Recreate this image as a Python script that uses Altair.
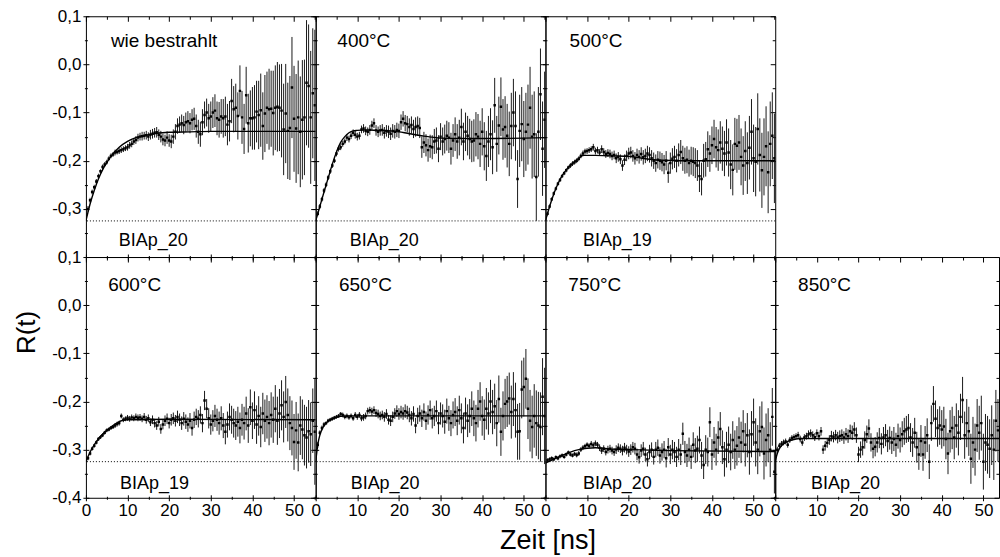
import altair as alt
import pandas as pd

# ---------------- data ----------------
# time channels [ns]
T = [0.5, 1.0, 1.5, 2.0, 2.5, 3.0, 3.5, 4.0, 4.5, 5.0,
     5.5, 6.0, 6.5, 7.0, 7.5, 8.0, 8.5, 9.0, 9.5, 10.0,
     10.5, 11.0, 11.5, 12.0, 12.5, 13.0, 13.5, 14.0, 14.5, 15.0,
     15.5, 16.0, 16.5, 17.0, 17.5, 18.0, 18.5, 19.0, 19.5, 20.0,
     20.5, 21.0, 21.5, 22.0, 22.5, 23.0, 23.5, 24.0, 24.5, 25.0,
     25.5, 26.0, 26.5, 27.0, 27.5, 28.0, 28.5, 29.0, 29.5, 30.0,
     30.5, 31.0, 31.5, 32.0, 32.5, 33.0, 33.5, 34.0, 34.5, 35.0,
     35.5, 36.0, 36.5, 37.0, 37.5, 38.0, 38.5, 39.0, 39.5, 40.0,
     40.5, 41.0, 41.5, 42.0, 42.5, 43.0, 43.5, 44.0, 44.5, 45.0,
     45.5, 46.0, 46.5, 47.0, 47.5, 48.0, 48.5, 49.0, 49.5, 50.0,
     50.5, 51.0, 51.5, 52.0, 52.5, 53.0, 53.5, 54.0, 54.5, 55.0]

PANEL_NAMES = ["wie bestrahlt", "400°C", "500°C", "600°C", "650°C", "750°C", "850°C"]
SAMPLE_NAMES = ["BIAp_20", "BIAp_20", "BIAp_19", "BIAp_19", "BIAp_20", "BIAp_20", "BIAp_20"]

# R(t) values in units of 1/1000
R_WB = [-300, -282, -265, -255, -243, -232, -222, -213, -208, -203,
        -196, -190, -187, -183, -182, -180, -178, -176, -174, -172,
        -168, -165, -160, -157, -152, -150, -149, -148, -147, -150,
        -146, -144, -142, -141, -146, -150, -156, -158, -152, -158,
        -160, -150, -140, -128, -125, -122, -126, -120, -118, -122,
        -115, -113, -128, -140, -145, -120, -105, -100, -112, -108,
        -100, -96, -112, -115, -108, -112, -108, -125, -118, -76,
        -93, -90, -107, -55, -110, -134, -64, -122, -112, -112,
        -110, -98, -105, -95, -128, -102, -90, -93, -92, -101,
        -90, -88, -90, -96, -135, -102, -138, -132, -48, -113,
        -133, -110, -140, -115, -110, -38, -45, -110, -60, -85]
E_WB = [6, 5, 5, 5, 5, 5, 4, 5, 5, 5,
        5, 5, 5, 6, 5, 6, 6, 6, 6, 7,
        7, 7, 7, 8, 8, 8, 9, 8, 9, 9,
        10, 10, 10, 11, 11, 12, 12, 12, 13, 13,
        14, 15, 16, 16, 17, 18, 19, 20, 21, 21,
        22, 23, 24, 25, 26, 27, 28, 29, 30, 31,
        32, 34, 35, 37, 36, 40, 41, 43, 42, 46,
        48, 50, 49, 53, 55, 52, 59, 61, 58, 65,
        67, 64, 71, 76, 70, 80, 75, 84, 79, 88,
        88, 93, 90, 97, 95, 103, 100, 108, 105, 110,
        113, 118, 115, 124, 120, 130, 128, 138, 135, 157]

R_400 = [-310, -295, -280, -262, -250, -235, -222, -210, -200, -185,
         -175, -172, -165, -160, -152, -155, -148, -142, -146, -150,
         -148, -135, -133, -138, -140, -136, -127, -122, -137, -140,
         -137, -136, -142, -138, -140, -144, -138, -140, -136, -138,
         -120, -113, -122, -124, -130, -126, -134, -130, -128, -132,
         -172, -162, -168, -178, -170, -172, -160, -158, -175, -150,
         -160, -155, -148, -152, -175, -158, -145, -160, -152, -130,
         -160, -140, -148, -155, -160, -158, -145, -150, -165, -140,
         -170, -190, -160, -145, -172, -85, -165, -127, -88, -135,
         -130, -148, -165, -128, -100, -128, -238, -138, -124, -155,
         -140, -125, -90, -150, -145, -234, -140, -62, -175, -115]
E_400 = [5, 5, 5, 5, 5, 5, 5, 5, 5, 6,
         6, 6, 6, 6, 7, 7, 7, 7, 8, 8,
         8, 8, 9, 9, 9, 10, 10, 10, 11, 11,
         11, 12, 12, 12, 13, 13, 14, 14, 15, 15,
         16, 16, 17, 17, 18, 18, 19, 20, 20, 21,
         22, 22, 23, 24, 24, 25, 26, 27, 28, 28,
         29, 30, 31, 32, 33, 34, 35, 36, 37, 38,
         39, 40, 41, 42, 43, 44, 46, 47, 48, 49,
         50, 52, 53, 54, 56, 57, 58, 60, 61, 63,
         64, 66, 67, 69, 70, 72, 60, 75, 77, 79,
         81, 83, 85, 87, 89, 91, 93, 95, 98, 100]

R_500 = [-310, -295, -280, -268, -258, -248, -240, -232, -226, -220,
         -214, -210, -206, -203, -200, -196, -190, -185, -181, -180,
         -178, -176, -172, -180, -178, -183, -176, -182, -186, -184,
         -186, -190, -188, -195, -192, -197, -210, -198, -190, -185,
         -183, -190, -195, -188, -192, -186, -193, -190, -185, -188,
         -195, -200, -205, -198, -200, -203, -208, -200, -225, -205,
         -196, -192, -200, -188, -182, -195, -200, -198, -205, -200,
         -202, -205, -210, -232, -238, -200, -197, -176, -185, -168,
         -155, -172, -178, -162, -175, -185, -162, -183, -208, -219,
         -165, -169, -162, -192, -210, -180, -205, -173, -140, -195,
         -202, -134, -188, -220, -192, -170, -224, -165, -148, -195]
E_500 = [4, 4, 4, 4, 4, 4, 4, 4, 4, 4,
         4, 5, 5, 5, 5, 5, 5, 6, 6, 6,
         6, 6, 7, 7, 7, 7, 8, 8, 8, 8,
         9, 9, 9, 10, 10, 10, 11, 11, 11, 12,
         12, 12, 13, 13, 14, 14, 15, 15, 16, 16,
         17, 17, 18, 18, 19, 19, 20, 20, 21, 22,
         22, 23, 24, 24, 25, 26, 27, 28, 28, 29,
         30, 31, 32, 33, 34, 35, 36, 37, 38, 39,
         40, 42, 43, 44, 46, 47, 48, 50, 51, 53,
         54, 56, 57, 59, 61, 62, 64, 66, 68, 70,
         72, 74, 76, 78, 80, 83, 85, 88, 90, 93]

R_600 = [-318, -308, -298, -292, -285, -278, -274, -270, -265, -260,
         -258, -255, -253, -250, -247, -245, -230, -238, -236, -234,
         -236, -233, -235, -232, -234, -233, -236, -232, -238, -235,
         -243, -238, -245, -250, -242, -257, -248, -240, -236, -245,
         -238, -235, -240, -232, -238, -245, -236, -242, -248, -240,
         -255, -238, -232, -236, -228, -245, -198, -215, -235, -248,
         -240, -230, -238, -245, -235, -250, -263, -248, -232, -238,
         -245, -250, -242, -255, -238, -245, -225, -250, -212, -240,
         -218, -248, -230, -253, -225, -240, -232, -245, -228, -238,
         -215, -240, -225, -208, -232, -201, -228, -245, -255, -284,
         -260, -285, -250, -258, -270, -275, -262, -268, -240, -263]
E_600 = [4, 4, 4, 4, 4, 4, 4, 4, 4, 4,
         4, 4, 4, 5, 5, 5, 5, 5, 5, 6,
         6, 6, 6, 7, 7, 7, 7, 8, 8, 8,
         8, 9, 9, 9, 10, 10, 10, 11, 11, 11,
         12, 12, 12, 13, 13, 14, 14, 15, 15, 16,
         16, 17, 17, 18, 18, 19, 20, 20, 21, 21,
         22, 23, 23, 24, 25, 26, 26, 27, 28, 29,
         30, 30, 31, 32, 33, 34, 35, 36, 37, 38,
         39, 40, 41, 42, 43, 44, 45, 46, 47, 48,
         49, 50, 51, 52, 53, 54, 55, 56, 57, 58,
         59, 60, 61, 62, 63, 64, 65, 66, 67, 110]

R_650 = [-290, -265, -255, -248, -245, -240, -238, -236, -234, -232,
         -230, -226, -228, -232, -230, -233, -230, -235, -228, -232,
         -228, -235, -233, -230, -220, -218, -221, -218, -224, -226,
         -230, -228, -232, -226, -238, -240, -232, -225, -220, -226,
         -222, -225, -220, -223, -228, -235, -226, -250, -230, -225,
         -235, -222, -240, -228, -218, -235, -230, -220, -245, -225,
         -230, -242, -220, -235, -245, -228, -222, -240, -218, -235,
         -255, -225, -240, -230, -215, -235, -245, -215, -200, -230,
         -238, -215, -225, -200, -222, -210, -245, -195, -263, -230,
         -205, -200, -194, -222, -195, -218, -263, -262, -175, -170,
         -153, -215, -240, -253, -230, -245, -250, -253, -190, -230]
E_650 = [6, 5, 5, 5, 4, 4, 4, 4, 4, 4,
         4, 4, 5, 5, 5, 5, 5, 5, 6, 6,
         6, 6, 7, 7, 7, 7, 8, 8, 8, 9,
         9, 9, 10, 10, 10, 11, 11, 11, 12, 12,
         13, 13, 14, 14, 15, 15, 16, 16, 17, 17,
         18, 18, 19, 20, 20, 21, 21, 22, 23, 23,
         24, 25, 26, 26, 27, 28, 29, 30, 30, 31,
         32, 33, 34, 35, 36, 37, 38, 39, 40, 41,
         42, 43, 44, 45, 46, 47, 48, 49, 50, 51,
         52, 53, 54, 55, 56, 57, 58, 59, 60, 61,
         62, 63, 64, 65, 66, 68, 70, 72, 80, 100]

R_750 = [-322, -320, -318, -320, -316, -318, -314, -312, -315, -310,
         -306, -310, -312, -309, -311, -308, -300, -296, -293, -290,
         -292, -288, -291, -287, -290, -296, -302, -298, -305, -300,
         -298, -302, -305, -300, -296, -298, -302, -296, -300, -304,
         -300, -295, -298, -310, -316, -302, -298, -310, -320, -305,
         -300, -315, -300, -296, -312, -305, -300, -318, -295, -310,
         -300, -305, -315, -300, -310, -267, -305, -312, -300, -315,
         -290, -302, -298, -280, -312, -332, -300, -305, -243, -310,
         -285, -300, -275, -257, -295, -320, -300, -290, -305, -280,
         -300, -292, -275, -285, -262, -290, -270, -305, -268, -243,
         -285, -300, -262, -253, -308, -280, -270, -300, -232, -346]
E_750 = [4, 4, 4, 4, 4, 4, 4, 4, 4, 4,
         4, 4, 4, 4, 5, 5, 5, 5, 5, 5,
         5, 6, 6, 6, 6, 7, 7, 7, 7, 8,
         8, 8, 8, 9, 9, 9, 10, 10, 10, 11,
         11, 11, 12, 12, 13, 13, 14, 14, 15, 15,
         15, 16, 16, 17, 17, 18, 18, 19, 19, 20,
         20, 21, 21, 22, 22, 23, 23, 24, 25, 25,
         26, 26, 27, 28, 28, 29, 30, 30, 31, 32,
         32, 33, 34, 35, 35, 36, 37, 38, 38, 39,
         40, 41, 42, 43, 44, 45, 46, 47, 48, 49,
         50, 51, 52, 53, 54, 55, 56, 57, 60, 45]

R_850 = [-300, -292, -288, -285, -283, -290, -280, -276, -274, -272,
         -270, -278, -285, -275, -272, -268, -266, -270, -274, -266,
         -272, -262, -300, -292, -286, -280, -272, -274, -270, -275,
         -272, -270, -275, -268, -272, -262, -265, -258, -270, -310,
         -300, -295, -280, -268, -256, -285, -298, -294, -285, -276,
         -288, -275, -270, -282, -276, -285, -278, -290, -272, -280,
         -268, -262, -258, -255, -275, -285, -265, -295, -310, -282,
         -310, -285, -270, -325, -245, -205, -236, -255, -250, -258,
         -252, -278, -308, -262, -255, -275, -250, -265, -232, -197,
         -270, -245, -262, -319, -285, -300, -250, -265, -245, -325,
         -285, -290, -298, -270, -300, -240, -260]
E_850 = [6, 6, 6, 6, 6, 6, 6, 6, 6, 6,
         7, 7, 7, 7, 7, 8, 8, 8, 8, 8,
         9, 9, 9, 10, 10, 10, 11, 11, 11, 12,
         12, 12, 13, 13, 14, 14, 15, 15, 16, 16,
         17, 17, 18, 18, 19, 19, 20, 20, 21, 21,
         22, 22, 23, 23, 24, 24, 25, 25, 26, 26,
         27, 28, 28, 29, 30, 30, 31, 32, 32, 33,
         34, 34, 35, 36, 37, 37, 38, 39, 40, 40,
         41, 42, 43, 44, 44, 45, 46, 47, 48, 48,
         49, 50, 51, 52, 53, 54, 55, 56, 57, 58,
         59, 60, 61, 62, 63, 64, 65]

# fit curves (time [ns], R in 1/1000)
FIT_T_WB = [0, 1, 2, 3, 4, 5, 6, 8, 10, 12, 15, 20, 25, 30, 55.2]
FIT_R_WB = [-325, -290, -262, -238, -219, -204, -191, -172, -160, -152, -146, -141, -140, -139, -139]
FIT_T_400 = [0, 1, 2, 3, 4, 5, 6, 7, 8, 9, 10, 12, 15, 18, 20, 22, 24, 26, 28, 30, 34, 40, 55.2]
FIT_R_400 = [-325, -295, -265, -236, -207, -182, -162, -150, -142, -138, -137, -136, -137, -138, -140,
             -143, -146, -149, -151, -153, -154, -154, -152]
FIT_T_500 = [0, 1, 2, 3, 4, 5, 6, 7, 8, 9, 12, 16, 20, 22, 24, 26, 28, 32, 55.2]
FIT_R_500 = [-325, -295, -269, -248, -231, -219, -210, -202, -195, -189, -189, -190, -191, -193, -196,
             -198, -199, -200, -200]
FIT_T_600 = [0, 1, 2, 3, 4, 5, 6, 7, 8, 9, 10, 20, 55.2]
FIT_R_600 = [-325, -305, -290, -278, -268, -260, -253, -247, -242, -239, -238, -237, -238]
FIT_T_650 = [0, 0.5, 1, 1.5, 2, 3, 4, 5, 6, 8, 10, 55.2]
FIT_R_650 = [-325, -290, -270, -258, -250, -241, -236, -233, -231, -230, -230, -230]
FIT_T_750 = [0, 2, 4, 6, 8, 10, 12, 14, 16, 20, 25, 30, 55.2]
FIT_R_750 = [-328, -320, -312, -305, -300, -297, -296, -297, -299, -300, -301, -302, -304]
FIT_T_850 = [0, 0.5, 1, 1.5, 2, 3, 4, 5, 6, 8, 53.75]
FIT_R_850 = [-325, -308, -298, -292, -288, -283, -280, -278, -277, -277, -277]

DOTTED_LEVEL = -0.325
X_TICKS = [0, 10, 20, 30, 40, 50]
X_MINOR = [5, 15, 25, 35, 45, 55]
Y_TICKS = [-0.4, -0.3, -0.2, -0.1, 0.0, 0.1]
Y_TICKS_TOP_ROW = [-0.3, -0.2, -0.1, 0.0, 0.1]
Y_MINOR = [-0.35, -0.25, -0.15, -0.05, 0.05]

R_ALL = [R_WB, R_400, R_500, R_600, R_650, R_750, R_850]
E_ALL = [E_WB, E_400, E_500, E_600, E_650, E_750, E_850]
FIT_T = [FIT_T_WB, FIT_T_400, FIT_T_500, FIT_T_600, FIT_T_650, FIT_T_750, FIT_T_850]
FIT_R = [FIT_R_WB, FIT_R_400, FIT_R_500, FIT_R_600, FIT_R_650, FIT_R_750, FIT_R_850]

# ---------------- layout / style ----------------
FONT = "Liberation Sans"
X_MAX = [55.2, 55.2, 55.2, 55.2, 55.2, 55.2, 53.75]
PANEL_W = [230, 230, 230, 230, 230, 230, 224]
PANEL_H = 241
NAME_X = [6.0, 5.2, 5.8, 5.35, 5.6, 5.5, 5.5]
NAME_Y = [0.037, 0.037, 0.037, 0.029, 0.029, 0.029, 0.029]
SAMPLE_X = [7.9, 8.2, 9.0, 8.2, 8.4, 9.0, 8.6]
SAMPLE_Y = [-0.377, -0.377, -0.377, -0.381, -0.381, -0.381, -0.381]

Y_LABEL_EXPR = ("(datum.value < -0.00001 ? '-' : '') + "
                "replace(format(abs(datum.value), '.1f'), '.', ',')")


def make_axis(orient, values, size, offset, show_labels=False, **extra):
    kw = dict(orient=orient, values=values, tickSize=size, offset=offset,
              domain=False, grid=False, tickColor="black", tickWidth=1,
              labels=show_labels)
    if show_labels:
        kw.update(labelFont=FONT, labelFontSize=17, labelColor="black",
                  labelFlush=False, labelOverlap=False, labelPadding=2)
        if orient in ("bottom", "top"):
            kw.update(format="d")
        else:
            kw.update(labelExpr=Y_LABEL_EXPR)
    kw.update(extra)
    return alt.Axis(**kw)


def build_panel(i):
    row = 0 if i < 3 else 1
    col = i if i < 3 else i - 3
    r = R_ALL[i]
    e = E_ALL[i]
    n = len(r)
    df = pd.DataFrame({
        "t": T[:n],
        "r": [v / 1000 for v in r],
        "lo": [(v - w) / 1000 for v, w in zip(r, e)],
        "hi": [(v + w) / 1000 for v, w in zip(r, e)],
    })
    fit = pd.DataFrame({"t": FIT_T[i], "r": [v / 1000 for v in FIT_R[i]]})
    xmax = X_MAX[i]
    xs = alt.Scale(domain=[0, xmax], nice=False, zero=False)
    ys = alt.Scale(domain=[-0.4, 0.1], nice=False, zero=False)

    x_minor = [v for v in X_MINOR if v < xmax]

    x_title_kw = {}
    if i == 4:
        x_title_kw = dict(titleFont=FONT, titleFontSize=27, titleFontWeight="normal",
                          titleColor="black", titleX=232, titleY=54,
                          titleAlign="center", titleBaseline="alphabetic")
    ax_b_major = make_axis("bottom", X_TICKS, 6, -3, show_labels=(row == 1), **x_title_kw)
    ax_b_minor = make_axis("bottom", x_minor, 3, -1.5)
    ax_t_major = make_axis("top", X_TICKS, 5, -5)
    ax_t_minor = make_axis("top", x_minor, 3, -3)

    y_title_kw = {}
    if i == 3:
        y_title_kw = dict(titleFont=FONT, titleFontSize=26, titleFontWeight="normal",
                          titleColor="black", titleX=-62, titleY=75, titleAngle=270,
                          titleAlign="center", titleBaseline="middle")
    y_major_vals = Y_TICKS_TOP_ROW if (row == 0 and col == 0) else Y_TICKS
    ay_l_major = make_axis("left", y_major_vals, 6, -3, show_labels=(col == 0), **y_title_kw)
    ay_l_minor = make_axis("left", Y_MINOR, 3, -1.5)
    ay_r_major = make_axis("right", Y_TICKS, 5, -5)
    ay_r_minor = make_axis("right", Y_MINOR, 3, -3)

    x_title = "Zeit [ns]" if i == 4 else None
    y_title = "R(t)" if i == 3 else None

    dotted = alt.Chart(pd.DataFrame({"d": [DOTTED_LEVEL]})).mark_rule(
        color="black", strokeWidth=1, strokeDash=[1, 2]
    ).encode(y=alt.Y("d:Q", scale=ys, axis=None))

    bars = alt.Chart(df).mark_rule(color="#1a1a1a", strokeWidth=1, clip=True).encode(
        x=alt.X("t:Q", scale=xs, axis=ax_b_major, title=x_title),
        y=alt.Y("lo:Q", scale=ys, axis=ay_l_major, title=y_title),
        y2="hi:Q",
    )
    pts = alt.Chart(df).mark_square(size=6, color="black", opacity=1, clip=True).encode(
        x=alt.X("t:Q", scale=xs, axis=ax_b_minor, title=None),
        y=alt.Y("r:Q", scale=ys, axis=ay_l_minor, title=None),
    )
    fit_line = alt.Chart(fit).mark_line(color="black", strokeWidth=1.4,
                                        interpolate="monotone", clip=True).encode(
        x=alt.X("t:Q", scale=xs, axis=ax_t_major, title=None),
        y=alt.Y("r:Q", scale=ys, axis=ay_r_major, title=None),
    )
    name_df = pd.DataFrame({"t": [NAME_X[i]], "r": [NAME_Y[i]], "label": [PANEL_NAMES[i]]})
    name_txt = alt.Chart(name_df).mark_text(
        align="left", baseline="alphabetic", font=FONT, fontSize=19, color="black"
    ).encode(
        x=alt.X("t:Q", scale=xs, axis=ax_t_minor, title=None),
        y=alt.Y("r:Q", scale=ys, axis=ay_r_minor, title=None),
        text="label:N",
    )
    sample_df = pd.DataFrame({"t": [SAMPLE_X[i]], "r": [SAMPLE_Y[i]], "label": [SAMPLE_NAMES[i]]})
    sample_txt = alt.Chart(sample_df).mark_text(
        align="left", baseline="alphabetic", font=FONT, fontSize=18, color="black"
    ).encode(
        x=alt.X("t:Q", scale=xs, axis=None),
        y=alt.Y("r:Q", scale=ys, axis=None),
        text="label:N",
    )
    return alt.layer(dotted, bars, pts, fit_line, name_txt, sample_txt).resolve_axis(
        x="independent", y="independent"
    ).properties(width=PANEL_W[i], height=PANEL_H)


panels = [build_panel(i) for i in range(7)]

# empty cell in the top-right corner (no frame, nothing drawn)
empty = alt.Chart(pd.DataFrame({"t": [0.0], "r": [0.0]})).mark_point(opacity=0).encode(
    x=alt.X("t:Q", axis=None),
    y=alt.Y("r:Q", axis=None),
).properties(width=PANEL_W[6], height=PANEL_H,
             view=alt.ViewBackground(stroke="transparent", fill="transparent"))

chart = alt.concat(
    panels[0], panels[1], panels[2], empty,
    panels[3], panels[4], panels[5], panels[6],
    columns=4, spacing=0, bounds="flush",
).properties(
    padding={"left": 13, "top": 6, "right": 0, "bottom": 2},
    background="white",
).configure_view(stroke="black", strokeWidth=1)

chart.save("out.html", embed_options={"renderer": "svg", "actions": False})
